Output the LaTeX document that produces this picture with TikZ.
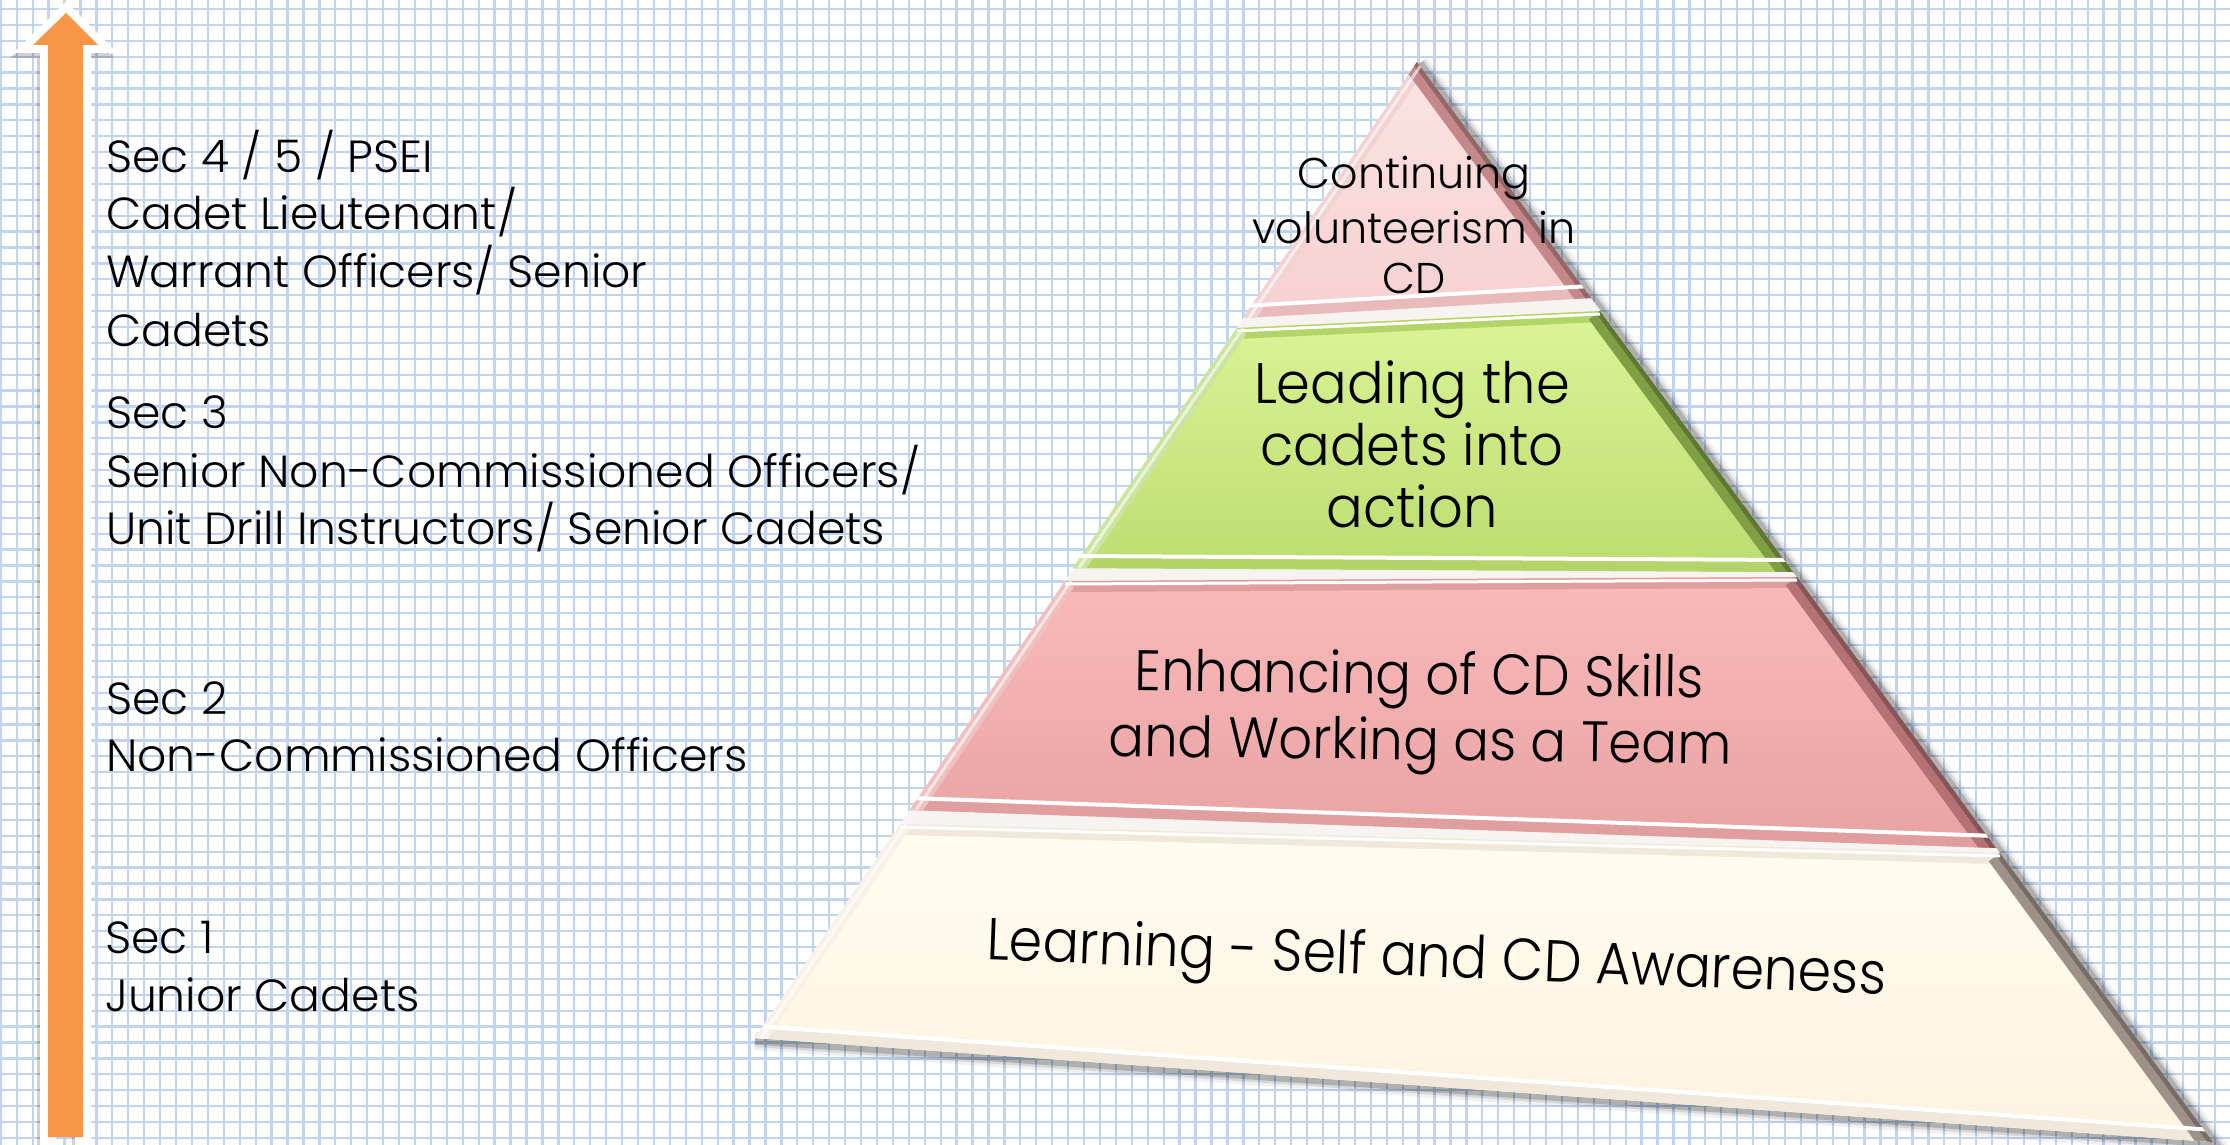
\documentclass[tikz,border=0pt]{standalone}
\usepackage{fontspec}
\setmainfont{Poppins}[UprightFont={* Light}]
\usepackage{graphicx}
\usetikzlibrary{calc}
\definecolor{gridc}{RGB}{192,211,240}
\definecolor{arroworange}{RGB}{247,150,70}
\definecolor{gapc}{RGB}{246,243,240}
% tier 1 (top, light pink)
\definecolor{aTop}{RGB}{252,228,228}
\definecolor{aBot}{RGB}{246,208,208}
\definecolor{aBev}{RGB}{232,186,186}
\definecolor{aLight}{RGB}{242,210,210}
\definecolor{aDark}{RGB}{196,136,138}
% tier 2 (green)
\definecolor{bTop}{RGB}{220,244,152}
\definecolor{bBot}{RGB}{188,220,112}
\definecolor{bBev}{RGB}{178,212,105}
\definecolor{bLight}{RGB}{205,228,160}
\definecolor{bDark}{RGB}{128,158,68}
% tier 3 (pink)
\definecolor{cTop}{RGB}{250,186,186}
\definecolor{cBot}{RGB}{232,162,162}
\definecolor{cBev}{RGB}{224,158,158}
\definecolor{cLight}{RGB}{240,192,192}
\definecolor{cDark}{RGB}{180,114,116}
% tier 4 (cream)
\definecolor{dTop}{RGB}{255,253,240}
\definecolor{dBot}{RGB}{253,242,224}
\definecolor{dBev}{RGB}{240,232,218}
\definecolor{dLight}{RGB}{248,241,232}
\definecolor{dDark}{RGB}{158,146,136}

\newlength\tmpw
\newcommand\fitratio[3]{\settowidth{\tmpw}{#2}\pgfmathsetmacro#1{#3/\tmpw}}
\newcommand\pyrtier[9]{%
  \begin{scope}
    \clip (#1)--(#2)--(#3)--(#4)--cycle;
    \shade[top color=#5, bottom color=#6] (#1)--(#2)--(#3)--(#4)--cycle;
    \draw[line width=22pt, #7] (#1)--(#2);
    \draw[line width=24pt, #7] (#4)--(#3);
    \draw[line width=22pt, #8] (#1)--(#4);
    \draw[line width=28pt, #9] (#2)--(#3);
    \draw[line width=9pt, #9!75!black] (#2)--(#3);
    \draw[white, line width=3pt] ($(#1)+(0,3)$)--($(#2)+(0,3)$);
    \draw[white, line width=4pt] ($(#4)+(0,-12)$)--($(#3)+(0,-12)$);
    \draw[white, opacity=0.6, line width=3pt] ($(#1)+(6,0)$)--($(#4)+(6,0)$);
  \end{scope}}

\begin{document}
\fitratio\rl{\fontsize{45}{54}\selectfont Senior Non-Commissioned Officers/}{814}%
\fitratio\rt{\fontsize{43}{50}\selectfont volunteerism in}{323}%
\fitratio\rg{\fontsize{57}{64}\selectfont Leading the}{316}%
\fitratio\rp{\fontsize{57}{64}\selectfont and Working as a Team}{623}%
\fitratio\rc{\fontsize{59}{64}\selectfont Learning - Self and CD Awareness}{900}%
\begin{tikzpicture}[x=1pt,y=-1pt,
  lefttxt/.style={anchor=base west, inner sep=0pt, font=\fontsize{45}{54}\selectfont},
  toptxt/.style={anchor=base, inner sep=0pt, font=\fontsize{43}{50}\selectfont},
  pyrtxt/.style={anchor=base, inner sep=0pt, font=\fontsize{57}{64}\selectfont},
  gridline/.style={gridc, line width=2.3pt},
]
\useasboundingbox (0,0) rectangle (2230,1145);
\fill[white] (0,0) rectangle (2230,1145);
\foreach \i in {0,...,140} \draw[gridline] ({0.8+\i*15.93},0) -- ({0.8+\i*15.93},1145);
\foreach \j in {0,...,72} \draw[gridline] (0,{9+\j*15.9}) -- (2230,{9+\j*15.9});

% ---- arrow ----
\begin{scope}[shift={(-3,5)}]
  \draw[black, opacity=0.18, line width=16pt] (48,1145)--(48,45)--(33,45)--(66,13)--(98,45)--(83,45)--(83,1145);
\end{scope}
\draw[white, line width=16pt] (48,1160)--(48,45)--(33,45)--(66,13)--(98,45)--(83,45)--(83,1160);
\fill[arroworange] (48,1137)--(48,45)--(33,45)--(66,13)--(98,45)--(83,45)--(83,1137)--cycle;

% ---- pyramid ----
\coordinate (apex) at (1417,62);
\coordinate (t1l) at (1243,318);  \coordinate (t1r) at (1591,298);
\coordinate (t2tl) at (1237,328); \coordinate (t2tr) at (1600,311);
\coordinate (t2bl) at (1073,568); \coordinate (t2br) at (1793,572);
\coordinate (t3tl) at (1065,581); \coordinate (t3tr) at (1797,577);
\coordinate (t3bl) at (910,810);  \coordinate (t3br) at (1996,848);
\coordinate (t4tl) at (900,824);  \coordinate (t4tr) at (2000,853);
\coordinate (t4bl) at (755,1038); \coordinate (t4br) at (2213,1142);

\foreach \w/\o in {18/0.06, 12/0.10, 7/0.18}
  \draw[line width=\w pt, black, opacity=\o] ($(apex)+(3,1)$) -- ($(t4br)+(3,2)$) -- ($(t4bl)+(0,3)$);
\fill[gapc] (apex)--(t4br)--(t4bl)--cycle;

\pyrtier{apex}{apex}{t1r}{t1l}{aTop}{aBot}{aBev}{aLight}{aDark}
\pyrtier{t2tl}{t2tr}{t2br}{t2bl}{bTop}{bBot}{bBev}{bLight}{bDark}
\pyrtier{t3tl}{t3tr}{t3br}{t3bl}{cTop}{cBot}{cBev}{cLight}{cDark}
\pyrtier{t4tl}{t4tr}{t4br}{t4bl}{dTop}{dBot}{dBev}{dLight}{dDark}

% ---- left labels ----
\node[lefttxt] (s4a) at (106,172) {\scalebox{\rl}[1]{Sec 4 / 5 / PSEI}};
\node[lefttxt] (s4b) at (106,229) {\scalebox{\rl}[1]{Cadet Lieutenant/}};
\node[lefttxt] (s4c) at (106,287) {\scalebox{\rl}[1]{Warrant Officers/ Senior}};
\node[lefttxt] (s4d) at (106,346) {\scalebox{\rl}[1]{Cadets}};
\node[lefttxt] (s3a) at (106,428) {\scalebox{\rl}[1]{Sec 3}};
\node[lefttxt] (s3b) at (106,487) {\scalebox{\rl}[1]{Senior Non-Commissioned Officers/}};
\node[lefttxt] (s3c) at (106,544) {\scalebox{\rl}[1]{Unit Drill Instructors/ Senior Cadets}};
\node[lefttxt] (s2a) at (106,714) {\scalebox{\rl}[1]{Sec 2}};
\node[lefttxt] (s2b) at (106,771) {\scalebox{\rl}[1]{Non-Commissioned Officers}};
\node[lefttxt] (s1a) at (105,953) {\scalebox{\rl}[1]{Sec 1}};
\node[lefttxt] (s1b) at (105,1011) {\scalebox{\rl}[1]{Junior Cadets}};

% ---- pyramid labels ----
\node[toptxt] (p1a) at (1414,189) {\scalebox{\rt}[1]{Continuing}};
\node[toptxt] (p1b) at (1414,243) {\scalebox{\rt}[1]{volunteerism in}};
\node[toptxt] (p1c) at (1414,293) {\scalebox{\rt}[1]{CD}};
\node[pyrtxt] (p2a) at (1412,403) {\scalebox{\rg}[1]{Leading the}};
\node[pyrtxt] (p2b) at (1412,465) {\scalebox{\rg}[1]{cadets into}};
\node[pyrtxt] (p2c) at (1412,527) {\scalebox{\rg}[1]{action}};
\node[pyrtxt, rotate=-0.7] (p3a) at (1419,694) {\scalebox{\rp}[1]{Enhancing of CD Skills}};
\node[pyrtxt, rotate=-0.7] (p3b) at (1420,760) {\scalebox{\rp}[1]{and Working as a Team}};
\node[pyrtxt, font=\fontsize{59}{64}\selectfont, rotate=-2.2] (p4a) at (1436,977) {\scalebox{\rc}[1]{Learning - Self and CD Awareness}};
\end{tikzpicture}
\end{document}
